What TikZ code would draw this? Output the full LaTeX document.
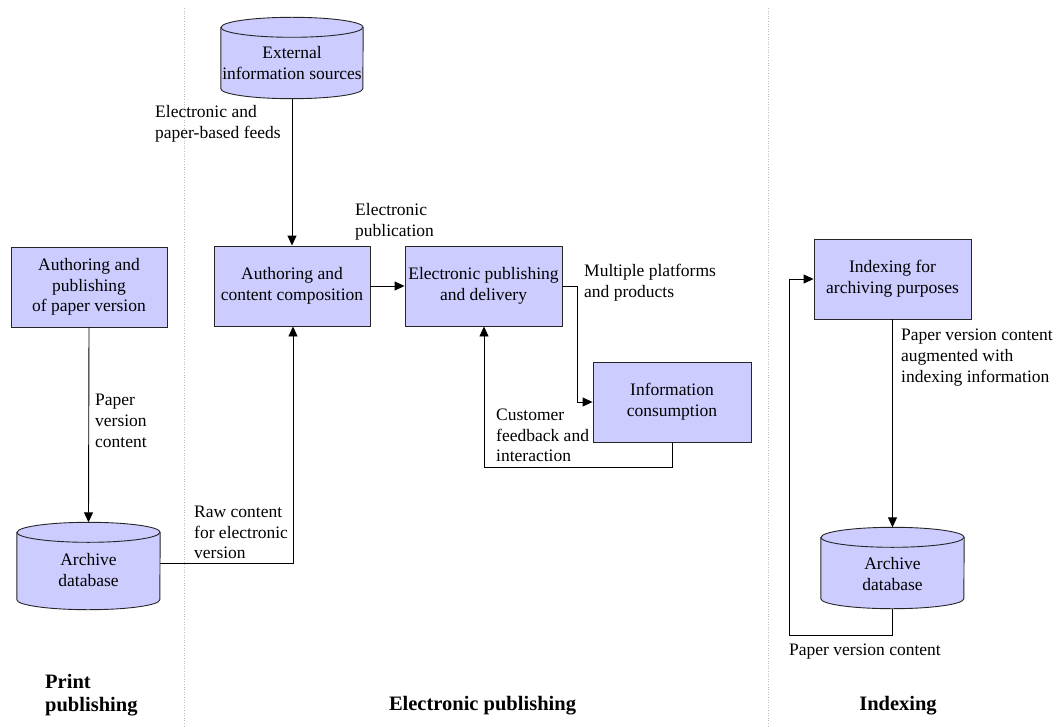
\documentclass[tikz,border=0pt]{standalone}
\usepackage{fontspec}
\setmainfont{Liberation Serif}
\usetikzlibrary{arrows.meta,backgrounds,calc}
\definecolor{boxblue}{RGB}{204,204,255}
\definecolor{sepgray}{RGB}{190,190,190}
% #1 node name, #2 x radius, #3 upward offset of the drawn body from the node
\newcommand\dbcyl[3]{%
  \begin{scope}[on background layer]
    \filldraw[fill=boxblue,draw=black!85,line width=0.9pt]
      ($(#1.north west)+(0,#3)$) -- ($(#1.south west)+(0,#3)$)
      arc[start angle=180,end angle=360,x radius=#2,y radius=10pt]
      -- ($(#1.north east)+(0,#3)$)
      arc[start angle=0,end angle=180,x radius=#2,y radius=10pt] -- cycle;
    \draw[draw=black!85,line width=0.9pt] ($(#1.north west)+(0,#3)$)
      arc[start angle=180,end angle=360,x radius=#2,y radius=10pt];
  \end{scope}}
\begin{document}
\begin{tikzpicture}[x=1pt,y=1pt,
  every node/.style={font=\fontsize{17.5}{20.7}\selectfont},
  procbox/.style={draw=black!85,fill=boxblue,line width=0.9pt,align=center,inner sep=0pt},
  dbbody/.style={align=center,inner sep=0pt},
  lbl/.style={align=left,inner sep=0pt,anchor=west},
  head/.style={font=\fontsize{20.5}{23.5}\selectfont\bfseries,inner sep=0pt,align=left},
  conn/.style={line width=0.9pt,draw=black},
  arr/.style={conn,-{Triangle[length=10pt,width=9pt]}},
  sep/.style={draw=sepgray,line width=0.6pt,dotted}]
\useasboundingbox (0,0) rectangle (1056,-727);
% separators
\coordinate (s1t) at (184,-8); \coordinate (s1b) at (184,-727);
\coordinate (s2t) at (768,-8); \coordinate (s2b) at (768,-727);
\draw[sep] (s1t) -- (s1b);
\draw[sep] (s2t) -- (s2b);
% cylinders (body nodes)
\node[dbbody,minimum width=142pt,minimum height=61pt] (ext) at (292,-63) {External\\information sources};
\dbcyl{ext}{71pt}{5}
\node[dbbody,minimum width=143pt,minimum height=67pt] (arcL) at (88.5,-570) {Archive\\database};
\dbcyl{arcL}{71.5pt}{4}
\node[dbbody,minimum width=143pt,minimum height=61pt] (arcR) at (892.5,-574) {Archive\\database};
\dbcyl{arcR}{71.5pt}{6}
% boxes
\node[procbox,minimum width=156pt,minimum height=80pt] (paper) at (89,-287) {Authoring and\\publishing\\of paper version};
\node[procbox,minimum width=156pt,minimum height=80pt] (comp) at (292,-286) {Authoring and\\content composition};
\node[procbox,minimum width=157pt,minimum height=80pt] (epd) at (483.5,-286) {Electronic publishing\\and delivery};
\node[procbox,minimum width=158pt,minimum height=80pt] (info) at (672,-402) {Information\\consumption};
\node[procbox,minimum width=157pt,minimum height=80pt] (idx) at (892.5,-279) {Indexing for\\archiving purposes};
% connectors
\draw[arr] ($(ext.south)+(0,-5)$) -- (comp.north);
\draw[arr] (comp.east) -- (epd.west);
\coordinate (m1) at (577,-286);
\draw[arr] (epd.east) -- (m1) |- (info.west);
\coordinate (f1) at (484,-467);
\draw[arr] (info.south) |- (f1) -- (f1 |- epd.south);
\draw[arr] (paper.south) -- ($(arcL.north)+(0,14)$);
\coordinate (r1) at (293,-563);
\draw[arr] (arcL.east |- r1) -- (r1) -- (r1 |- comp.south);
\draw[arr] (idx.south) -- ($(arcR.north)+(0,16)$);
\coordinate (p1) at (789,-635);
\draw[arr] ($(arcR.south)+(0,-4)$) |- (p1) |- (idx.west);
% labels
\node[lbl] (lfeeds) at (155,-124) {Electronic and\\paper-based feeds};
\node[lbl] (lpub) at (355,-221.5) {Electronic\\publication};
\node[lbl] (lmulti) at (584,-283) {Multiple platforms\\and products};
\node[lbl] (lcust) at (496,-435.5) {Customer\\feedback and\\interaction};
\node[lbl] (lpaper) at (95,-421) {Paper\\version\\content};
\node[lbl] (lraw) at (194,-532.5) {Raw content\\for electronic\\version};
\node[lbl] (laug) at (901,-357.5) {Paper version content\\augmented with\\indexing information};
\node[lbl] (lpvc) at (789,-652) {Paper version content};
% section headings
\node[head,anchor=west] (hprint) at (45,-695) {Print\\publishing};
\node[head] (helec) at (482.5,-706) {Electronic publishing};
\node[head] (hidx) at (898,-706) {Indexing};
\end{tikzpicture}
\end{document}
